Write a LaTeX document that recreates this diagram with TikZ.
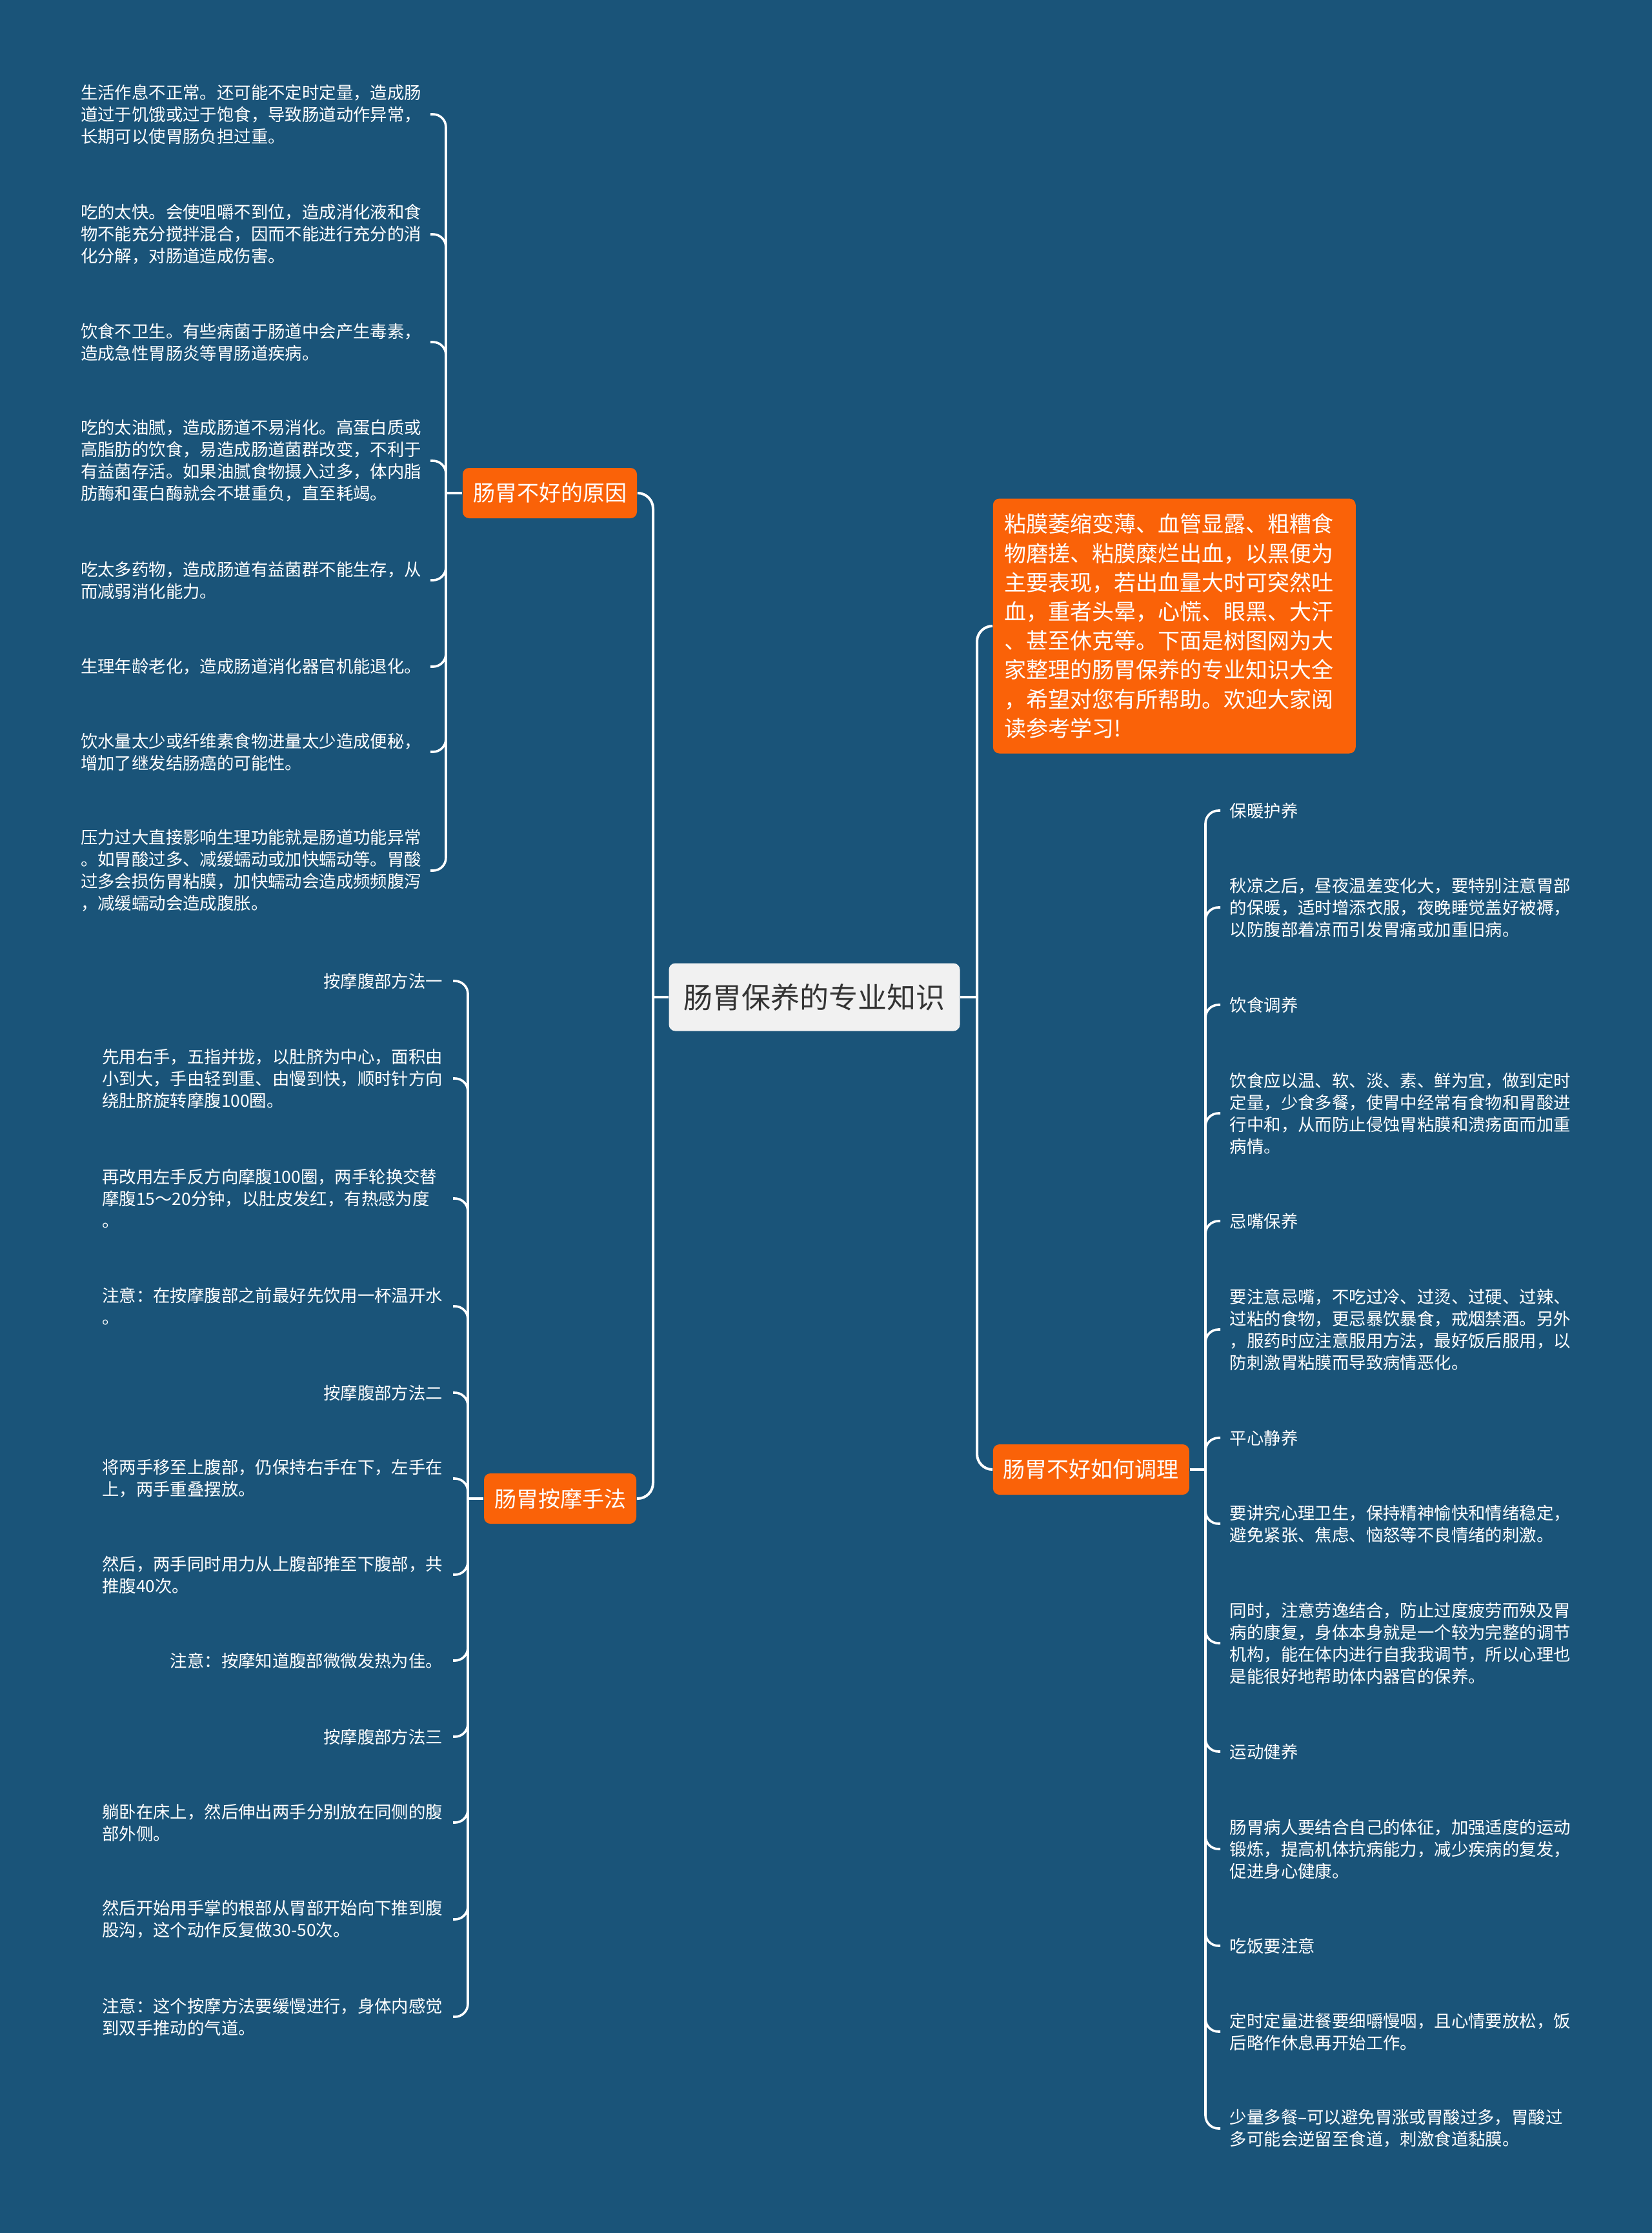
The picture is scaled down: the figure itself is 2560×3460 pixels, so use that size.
\documentclass[tikz,border=0pt]{standalone}
\usepackage{fontspec}
\setmainfont{Noto Sans CJK SC}
\definecolor{bgblue}{RGB}{26,84,121}
\definecolor{orgfill}{RGB}{250,98,8}
\definecolor{rootfill}{RGB}{241,241,241}
\definecolor{roottext}{RGB}{51,51,51}
\definecolor{leaftext}{RGB}{255,255,255}
\tikzset{
  conn/.style={draw=white, line width=1pt},
  mainconn/.style={conn, rounded corners=6pt},
  subconn/.style={conn, line width=0.9pt, rounded corners=5pt},
  rootbox/.style={fill=rootfill, text=roottext, rounded corners=2.5pt,
    minimum width=112.75pt, minimum height=26.25pt, inner sep=0pt,
    font=\fontsize{11.25pt}{13pt}\selectfont},
  branchbox/.style={fill=orgfill, text=white, rounded corners=2.5pt,
    inner xsep=4pt, inner ysep=0pt, minimum height=19.5pt,
    font=\fontsize{8.5pt}{10pt}\selectfont},
  introbox/.style={fill=orgfill, text=white, rounded corners=2.5pt,
    text width=131.5pt, inner xsep=4.5pt, inner ysep=0pt, align=left,
    minimum height=98.75pt, font=\fontsize{8.5pt}{11.3pt}\selectfont},
  leaf/.style={text=leaftext, inner ysep=1.5pt,
    font=\fontsize{6.6pt}{8.5pt}\selectfont},
  leafL/.style={leaf, text width=132pt, align=left, inner xsep=3.25pt, anchor=east},
  leafM/.style={leaf, text width=132pt, align=left, inner xsep=3.75pt, anchor=east},
  leafMr/.style={leafM, align=right},
  leafR/.style={leaf, text width=133pt, align=left, inner xsep=3.5pt, anchor=west},
}
\begin{document}
\begin{tikzpicture}[x=0.25pt,y=-0.25pt]
\fill[bgblue] (0,0) rectangle (2560,3460);
\useasboundingbox (0,0) rectangle (2560,3460);

% trunk / bracket x positions
\coordinate (ltrunk) at (1012,0);
\coordinate (rtrunk) at (1514,0);
\coordinate (bxA) at (691,0);
\coordinate (bxB) at (725,0);
\coordinate (bxC) at (1868,0);

% root and branches
\node[rootbox] (root) at (1262,1545) {肠胃保养的专业知识};
\node[branchbox] (bA) at (852,764) {肠胃不好的原因};
\node[branchbox] (bB) at (868,2322) {肠胃按摩手法};
\node[branchbox, anchor=west] (bC) at (1538,2277) {肠胃不好如何调理};
\node[introbox, anchor=west] (intro) at (1538,970) {粘膜萎缩变薄、血管显露、粗糟食\\物磨搓、粘膜糜烂出血，以黑便为\\主要表现，若出血量大时可突然吐\\血，重者头晕，心慌、眼黑、大汗\\、甚至休克等。下面是树图网为大\\家整理的肠胃保养的专业知识大全\\，希望对您有所帮助。欢迎大家阅\\读参考学习!};

% group A: 肠胃不好的原因
\node[leafL] (a1) at (667,177) {生活作息不正常。还可能不定时定量，造成肠\\道过于饥饿或过于饱食，导致肠道动作异常，\\长期可以使胃肠负担过重。};
\node[leafL] (a2) at (667,363) {吃的太快。会使咀嚼不到位，造成消化液和食\\物不能充分搅拌混合，因而不能进行充分的消\\化分解，对肠道造成伤害。};
\node[leafL] (a3) at (667,530) {饮食不卫生。有些病菌于肠道中会产生毒素，\\造成急性胃肠炎等胃肠道疾病。};
\node[leafL] (a4) at (667,714) {吃的太油腻，造成肠道不易消化。高蛋白质或\\高脂肪的饮食，易造成肠道菌群改变，不利于\\有益菌存活。如果油腻食物摄入过多，体内脂\\肪酶和蛋白酶就会不堪重负，直至耗竭。};
\node[leafL] (a5) at (667,899) {吃太多药物，造成肠道有益菌群不能生存，从\\而减弱消化能力。};
\node[leafL] (a6) at (667,1033) {生理年龄老化，造成肠道消化器官机能退化。};
\node[leafL] (a7) at (667,1165) {饮水量太少或纤维素食物进量太少造成便秘，\\增加了继发结肠癌的可能性。};
\node[leafL] (a8) at (667,1349) {压力过大直接影响生理功能就是肠道功能异常\\。如胃酸过多、减缓蠕动或加快蠕动等。胃酸\\过多会损伤胃粘膜，加快蠕动会造成频频腹泻\\，减缓蠕动会造成腹胀。};

% group B: 肠胃按摩手法
\node[leafMr] (m1) at (702,1520) {按摩腹部方法一};
\node[leafM] (m2) at (702,1671) {先用右手，五指并拢，以肚脐为中心，面积由\\小到大，手由轻到重、由慢到快，顺时针方向\\绕肚脐旋转摩腹100圈。};
\node[leafM] (m3) at (702,1857) {再改用左手反方向摩腹100圈，两手轮换交替\\摩腹15～20分钟，以肚皮发红，有热感为度\\。};
\node[leafM] (m4) at (702,2024) {注意：在按摩腹部之前最好先饮用一杯温开水\\。};
\node[leafMr] (m5) at (702,2158) {按摩腹部方法二};
\node[leafM] (m6) at (702,2291) {将两手移至上腹部，仍保持右手在下，左手在\\上，两手重叠摆放。};
\node[leafM] (m7) at (702,2440) {然后，两手同时用力从上腹部推至下腹部，共\\推腹40次。};
\node[leafMr] (m8) at (702,2573) {注意：按摩知道腹部微微发热为佳。};
\node[leafMr] (m9) at (702,2691) {按摩腹部方法三};
\node[leafM] (m10) at (702,2824) {躺卧在床上，然后伸出两手分别放在同侧的腹\\部外侧。};
\node[leafM] (m11) at (702,2974) {然后开始用手掌的根部从胃部开始向下推到腹\\股沟，这个动作反复做30-50次。};
\node[leafM] (m12) at (702,3125) {注意：这个按摩方法要缓慢进行，身体内感觉\\到双手推动的气道。};

% group C: 肠胃不好如何调理
\node[leafR] (c1) at (1891,1256) {保暖护养};
\node[leafR] (c2) at (1891,1406) {秋凉之后，昼夜温差变化大，要特别注意胃部\\的保暖，适时增添衣服，夜晚睡觉盖好被褥，\\以防腹部着凉而引发胃痛或加重旧病。};
\node[leafR] (c3) at (1891,1557) {饮食调养};
\node[leafR] (c4) at (1891,1725) {饮食应以温、软、淡、素、鲜为宜，做到定时\\定量，少食多餐，使胃中经常有食物和胃酸进\\行中和，从而防止侵蚀胃粘膜和溃疡面而加重\\病情。};
\node[leafR] (c5) at (1891,1892) {忌嘴保养};
\node[leafR] (c6) at (1891,2060) {要注意忌嘴，不吃过冷、过烫、过硬、过辣、\\过粘的食物，更忌暴饮暴食，戒烟禁酒。另外\\，服药时应注意服用方法，最好饭后服用，以\\防刺激胃粘膜而导致病情恶化。};
\node[leafR] (c7) at (1891,2228) {平心静养};
\node[leafR] (c8) at (1891,2361) {要讲究心理卫生，保持精神愉快和情绪稳定，\\避免紧张、焦虑、恼怒等不良情绪的刺激。};
\node[leafR] (c9) at (1891,2546) {同时，注意劳逸结合，防止过度疲劳而殃及胃\\病的康复，身体本身就是一个较为完整的调节\\机构，能在体内进行自我我调节，所以心理也\\是能很好地帮助体内器官的保养。};
\node[leafR] (c10) at (1891,2714) {运动健养};
\node[leafR] (c11) at (1891,2865) {肠胃病人要结合自己的体征，加强适度的运动\\锻炼，提高机体抗病能力，减少疾病的复发，\\促进身心健康。};
\node[leafR] (c12) at (1891,3015) {吃饭要注意};
\node[leafR] (c13) at (1891,3148) {定时定量进餐要细嚼慢咽，且心情要放松，饭\\后略作休息再开始工作。};
\node[leafR] (c14) at (1891,3298) {少量多餐–可以避免胃涨或胃酸过多，胃酸过\\多可能会逆留至食道，刺激食道黏膜。};

% main connectors
\draw[conn] (root.west) -- (root.west -| ltrunk);
\draw[mainconn] (root.west -| ltrunk) |- (bA.east);
\draw[mainconn] (root.west -| ltrunk) |- (bB.east);
\draw[conn] (root.east) -- (root.east -| rtrunk);
\draw[mainconn] (root.east -| rtrunk) |- (intro.west);
\draw[mainconn] (root.east -| rtrunk) |- (bC.west);

% group connectors
\draw[conn] (bA.west) -- (bA.west -| bxA);
\foreach \n in {1,...,8} \draw[subconn] (bA.west -| bxA) |- (a\n.east);
\draw[conn] (bB.west) -- (bB.west -| bxB);
\foreach \n in {1,...,12} \draw[subconn] (bB.west -| bxB) |- (m\n.east);
\draw[conn] (bC.east) -- (bC.east -| bxC);
\foreach \n in {1,...,14} \draw[subconn] (bC.east -| bxC) |- (c\n.west);
\end{tikzpicture}
\end{document}
